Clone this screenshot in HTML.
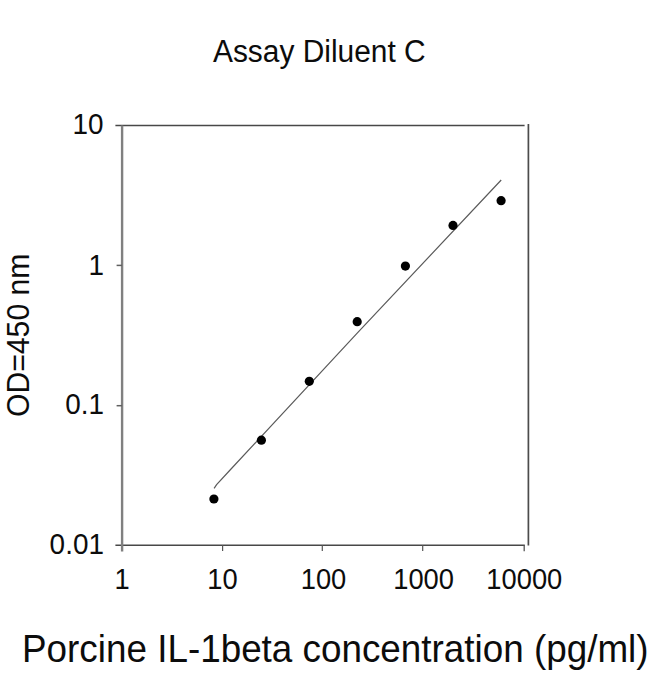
<!DOCTYPE html>
<html>
<head>
<meta charset="utf-8">
<title>Assay Diluent C</title>
<style>
html,body{margin:0;padding:0;background:#fff;}
body{width:650px;height:674px;overflow:hidden;font-family:"Liberation Sans",sans-serif;}
svg{display:block;}
text{font-family:"Liberation Sans",sans-serif;fill:#0c0c0c;}
</style>
</head>
<body>
<svg width="650" height="674" viewBox="0 0 650 674">
  <rect x="0" y="0" width="650" height="674" fill="#ffffff"/>

  <!-- title -->
  <text transform="translate(319.3,62) scale(1,1.06)" font-size="29.9" text-anchor="middle">Assay Diluent C</text>

  <!-- frame -->
  <line x1="115.4" y1="125.5" x2="524.6" y2="125.5" stroke="#484848" stroke-width="1.5"/>
  <line x1="115.4" y1="545.3" x2="524.8" y2="545.3" stroke="#484848" stroke-width="1.5"/>
  <line x1="122.1" y1="125.5" x2="122.1" y2="551.5" stroke="#808080" stroke-width="2.4"/>
  <line x1="528.4" y1="124.0" x2="528.4" y2="545.6" stroke="#4c4c4c" stroke-width="1.7"/>

  <!-- y ticks -->
  <line x1="116.6" y1="265.4" x2="122" y2="265.4" stroke="#606060" stroke-width="1.5"/>
  <line x1="116.6" y1="405.7" x2="122" y2="405.7" stroke="#606060" stroke-width="1.5"/>

  <!-- x ticks -->
  <line x1="222.6" y1="545" x2="222.6" y2="551" stroke="#555" stroke-width="1.2"/>
  <line x1="322.3" y1="545" x2="322.3" y2="551" stroke="#555" stroke-width="1.2"/>
  <line x1="422.7" y1="545" x2="422.7" y2="551" stroke="#555" stroke-width="1.2"/>
  <line x1="524.2" y1="545" x2="524.2" y2="551.2" stroke="#555" stroke-width="1.3"/>

  <!-- fit line -->
  <polyline points="214.1,488.4 216.6,484.6 230.1,470 357.2,333.2 501.2,180" fill="none" stroke="#5a5a5a" stroke-width="1.2"/>

  <!-- points -->
  <g fill="#000">
    <circle cx="213.9" cy="499.0" r="4.6"/>
    <circle cx="261.4" cy="440.2" r="4.6"/>
    <circle cx="309.3" cy="381.3" r="4.6"/>
    <circle cx="357.2" cy="321.7" r="4.6"/>
    <circle cx="405.4" cy="266.1" r="4.6"/>
    <circle cx="453.0" cy="225.4" r="4.6"/>
    <circle cx="501.1" cy="200.7" r="4.6"/>
  </g>

  <!-- y labels -->
  <g font-size="27.9" text-anchor="end">
    <text transform="translate(103.5,134.1) scale(1,1.035)">10</text>
    <text transform="translate(103.9,274.7) scale(1,1.035)">1</text>
    <text transform="translate(103.9,414.2) scale(1,1.035)">0.1</text>
    <text transform="translate(103.9,554.3) scale(1,1.035)">0.01</text>
  </g>

  <!-- x labels -->
  <g font-size="27.3" text-anchor="middle">
    <text transform="translate(122.0,588.8) scale(1,1.05)">1</text>
    <text transform="translate(222.5,588.8) scale(1,1.05)">10</text>
    <text transform="translate(323.5,588.8) scale(1,1.05)">100</text>
    <text transform="translate(423.6,588.8) scale(1,1.05)">1000</text>
    <text transform="translate(524.3,588.8) scale(1,1.05)">10000</text>
  </g>

  <!-- axis titles -->
  <text transform="translate(29,335.3) rotate(-90) scale(1,1.05)" font-size="30.2" text-anchor="middle">OD=450 nm</text>
  <text transform="translate(335.3,662.1) scale(1,1.04)" font-size="36.85" text-anchor="middle">Porcine IL-1beta concentration (pg/ml)</text>
</svg>
</body>
</html>
